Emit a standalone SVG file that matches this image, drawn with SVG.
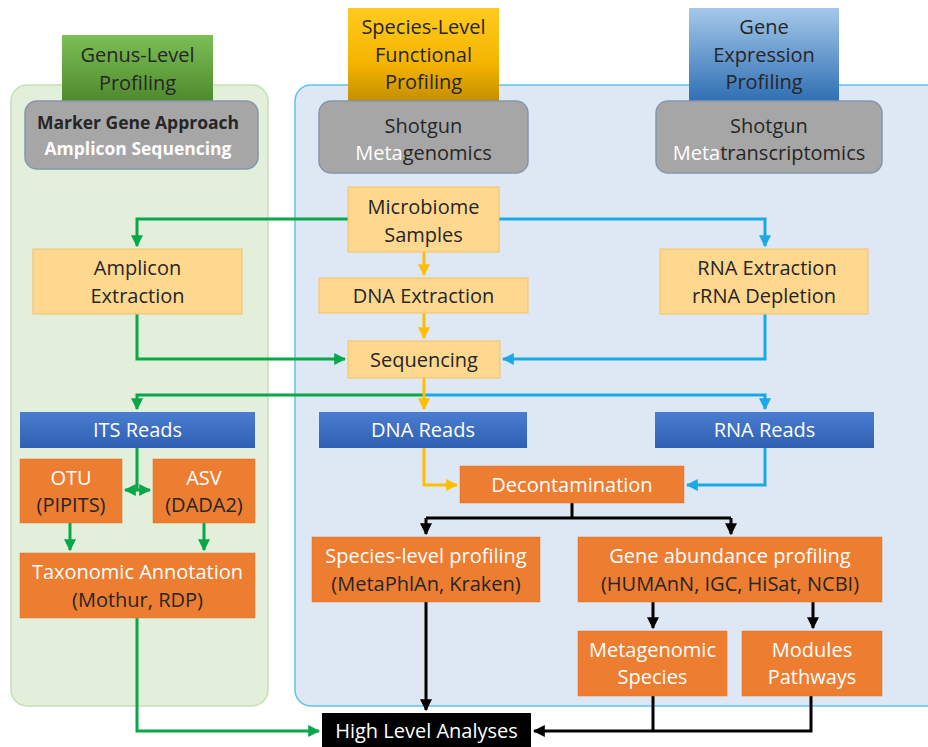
<svg xmlns="http://www.w3.org/2000/svg" width="928" height="747" viewBox="0 0 928 747">
<defs>
<linearGradient id="gGreen" x1="0" y1="0" x2="0" y2="1"><stop offset="0" stop-color="#7cbf55"/><stop offset="1" stop-color="#4f8a2e"/></linearGradient>
<linearGradient id="gYellow" x1="0" y1="0" x2="0" y2="1"><stop offset="0" stop-color="#ffcb1f"/><stop offset="0.6" stop-color="#f5b400"/><stop offset="1" stop-color="#c48e00"/></linearGradient>
<linearGradient id="gBlueH" x1="0" y1="0" x2="0" y2="1"><stop offset="0" stop-color="#a5c8ea"/><stop offset="1" stop-color="#2f6fb3"/></linearGradient>
<linearGradient id="gReads" x1="0" y1="0" x2="0" y2="1"><stop offset="0" stop-color="#4a7dd1"/><stop offset="1" stop-color="#2f5fb0"/></linearGradient>
<marker id="aG" viewBox="0 0 10 10" refX="9" refY="5" markerWidth="4" markerHeight="4" orient="auto-start-reverse"><path d="M0,0 L10,5 L0,10 z" fill="#0aa64a"/></marker>
<marker id="aB" viewBox="0 0 10 10" refX="9" refY="5" markerWidth="4" markerHeight="4" orient="auto-start-reverse"><path d="M0,0 L10,5 L0,10 z" fill="#1aa9e6"/></marker>
<marker id="aY" viewBox="0 0 10 10" refX="9" refY="5" markerWidth="4" markerHeight="4" orient="auto-start-reverse"><path d="M0,0 L10,5 L0,10 z" fill="#ffbf00"/></marker>
<marker id="aK" viewBox="0 0 10 10" refX="9" refY="5" markerWidth="4" markerHeight="4" orient="auto-start-reverse"><path d="M0,0 L10,5 L0,10 z" fill="#000"/></marker>
</defs>
<style>
text{font-family:"Open Sans","Noto Sans","Liberation Sans",sans-serif;font-size:20px;text-anchor:middle;fill:#262626}
.w{fill:#ffffff}
.b{font-weight:bold;font-size:17.5px}
.lo{fill:#fed88f;stroke:#f5c064;stroke-width:1}
.or{fill:#ed7d31;stroke:#e0702a;stroke-width:0.5}
.rd{fill:url(#gReads)}
.gr{fill:#a6a6a6;stroke:#8496ae;stroke-width:1.5}
.cg{fill:none;stroke:#0aa64a;stroke-width:3}
.cb{fill:none;stroke:#1aa9e6;stroke-width:3}
.cy{fill:none;stroke:#ffbf00;stroke-width:3}
.ck{fill:none;stroke:#000;stroke-width:3}
</style>
<rect width="928" height="747" fill="#ffffff"/>
<g id="panel-genus"><rect x="11" y="85" width="257" height="621" rx="16" fill="#e2efda" stroke="#c5e0b4" stroke-width="1.5"/></g>
<g id="panel-species"><rect x="295" y="85" width="650" height="621" rx="16" fill="#dde8f4" stroke="#5bc3ee" stroke-width="1.5"/></g>

<g id="hdr-genus"><rect x="62" y="35" width="151" height="66" fill="url(#gGreen)"/><text x="137.5" y="62">Genus-Level</text><text x="137.5" y="90">Profiling</text></g>
<g id="hdr-species"><rect x="348" y="8" width="151" height="93" fill="url(#gYellow)"/><text x="423.5" y="34">Species-Level</text><text x="423.5" y="62">Functional</text><text x="423.5" y="89">Profiling</text></g>
<g id="hdr-gene"><rect x="689" y="8" width="150" height="93" fill="url(#gBlueH)"/><text x="764" y="34">Gene</text><text x="764" y="62">Expression</text><text x="764" y="89">Profiling</text></g>

<g id="marker-gene"><rect x="25" y="101" width="233" height="68" rx="12" class="gr"/><text x="138" y="129" class="b">Marker Gene Approach</text><text x="138" y="155" class="b w">Amplicon Sequencing</text></g>
<g id="shotgun-meta"><rect x="319" y="101" width="209" height="72" rx="12" class="gr"/><text x="423.5" y="133">Shotgun</text><text x="423.5" y="160"><tspan class="w">Meta</tspan>genomics</text></g>
<g id="shotgun-trans"><rect x="656" y="101" width="226" height="72" rx="12" class="gr"/><text x="769" y="133">Shotgun</text><text x="769" y="160"><tspan class="w">Meta</tspan>transcriptomics</text></g>

<g id="connectors">
<path class="cg" d="M348,219 H137 V246" marker-end="url(#aG)"/>
<path class="cg" d="M137,314 V359 H345" marker-end="url(#aG)"/>
<path class="cg" d="M424,395 H137 V409" marker-end="url(#aG)"/>
<path class="cg" d="M137,448 V490"/>
<path class="cg" d="M125,490 H150" marker-start="url(#aG)" marker-end="url(#aG)"/>
<path class="cg" d="M70,523 V550" marker-end="url(#aG)"/>
<path class="cg" d="M204,523 V550" marker-end="url(#aG)"/>
<path class="cg" d="M137,618 V731 H319" marker-end="url(#aG)"/>
<path class="cb" d="M499,219 H765 V246" marker-end="url(#aB)"/>
<path class="cb" d="M765,314 V359 H503" marker-end="url(#aB)"/>
<path class="cb" d="M424,395 H765 V409" marker-end="url(#aB)"/>
<path class="cb" d="M765,448 V485 H687" marker-end="url(#aB)"/>
<path class="cy" d="M424,252 V275" marker-end="url(#aY)"/>
<path class="cy" d="M424,313 V338" marker-end="url(#aY)"/>
<path class="cy" d="M424,378 V409" marker-end="url(#aY)"/>
<path class="cy" d="M424,448 V485 H457" marker-end="url(#aY)"/>
<path class="ck" d="M572,503 V518"/>
<path class="ck" d="M426,518 H731"/>
<path class="ck" d="M426,518 V534" marker-end="url(#aK)"/>
<path class="ck" d="M731,518 V534" marker-end="url(#aK)"/>
<path class="ck" d="M426,602 V710" marker-end="url(#aK)"/>
<path class="ck" d="M653,602 V628" marker-end="url(#aK)"/>
<path class="ck" d="M813,602 V628" marker-end="url(#aK)"/>
<path class="ck" d="M653,696 V731"/>
<path class="ck" d="M811,696 V731 H534" marker-end="url(#aK)"/>
</g>

<g id="microbiome"><rect x="348" y="187" width="151" height="65" class="lo"/><text x="423.5" y="214">Microbiome</text><text x="423.5" y="242">Samples</text></g>
<g id="amplicon-extraction"><rect x="33" y="249" width="209" height="65" class="lo"/><text x="137.5" y="275">Amplicon</text><text x="137.5" y="303">Extraction</text></g>
<g id="dna-extraction"><rect x="319" y="278" width="209" height="35" class="lo"/><text x="423.5" y="303">DNA Extraction</text></g>
<g id="rna-extraction"><rect x="660" y="249" width="208" height="65" class="lo"/><text x="767" y="275">RNA Extraction</text><text x="764" y="303">rRNA Depletion</text></g>
<g id="sequencing"><rect x="348" y="341" width="152" height="37" class="lo"/><text x="424" y="367">Sequencing</text></g>

<g id="its-reads"><rect x="20" y="412" width="235" height="36" class="rd"/><text x="137.5" y="437" class="w">ITS Reads</text></g>
<g id="dna-reads"><rect x="319" y="412" width="208" height="36" class="rd"/><text x="423" y="437" class="w">DNA Reads</text></g>
<g id="rna-reads"><rect x="655" y="412" width="219" height="36" class="rd"/><text x="764.5" y="437" class="w">RNA Reads</text></g>

<g id="otu"><rect x="20" y="459" width="102" height="64" class="or"/><text x="71" y="485" class="w">OTU</text><text x="71" y="512">(PIPITS)</text></g>
<g id="asv"><rect x="153" y="459" width="102" height="64" class="or"/><text x="204" y="485" class="w">ASV</text><text x="204" y="512">(DADA2)</text></g>
<g id="taxonomic"><rect x="20" y="553" width="235" height="65" class="or"/><text x="137.5" y="579" class="w">Taxonomic Annotation</text><text x="137.5" y="607">(Mothur, RDP)</text></g>
<g id="decontamination"><rect x="460" y="466" width="224" height="37" class="or"/><text x="572" y="492" class="w">Decontamination</text></g>
<g id="species-profiling"><rect x="312" y="537" width="228" height="65" class="or"/><text x="426" y="563" class="w">Species-level profiling</text><text x="426" y="591">(MetaPhlAn, Kraken)</text></g>
<g id="gene-profiling"><rect x="578" y="537" width="304" height="65" class="or"/><text x="730" y="563" class="w">Gene abundance profiling</text><text x="730" y="591">(HUMAnN, IGC, HiSat, NCBI)</text></g>
<g id="metagenomic-species"><rect x="578" y="631" width="149" height="65" class="or"/><text x="652.5" y="657" class="w">Metagenomic</text><text x="652.5" y="684" class="w">Species</text></g>
<g id="modules"><rect x="742" y="631" width="140" height="65" class="or"/><text x="812" y="657" class="w">Modules</text><text x="812" y="684" class="w">Pathways</text></g>
<g id="high-level"><rect x="322" y="713" width="209" height="34" fill="#000"/><text x="426.5" y="738" class="w">High Level Analyses</text></g>
</svg>
